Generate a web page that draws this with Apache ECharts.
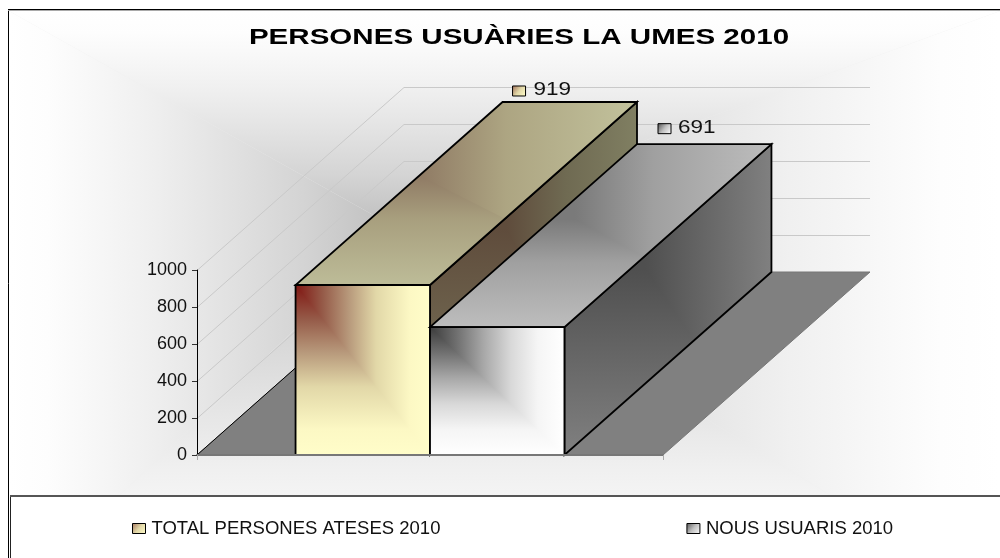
<!DOCTYPE html>
<html><head><meta charset="utf-8">
<style>html,body{margin:0;padding:0;background:#fff}#c{width:1000px;height:558px}</style>
<script src="https://cdn.jsdelivr.net/npm/echarts@6/dist/echarts.min.js"></script>
</head><body><div id="c"></div>
<script>
const categories = ['2010'];
const seriesNames = ['TOTAL PERSONES ATESES 2010', 'NOUS USUARIS 2010'];
const totalValues = [919];
const newUserValues = [691];
const yTicks = [0, 200, 400, 600, 800, 1000];
const titleText = 'PERSONES USUÀRIES LA UMES 2010';

const DX = 207, DY = -183;
const BAR_FRAC = 0.2885;
const LG = echarts.graphic.LinearGradient;
const toStops = s => s.map(c => ({offset: c[0], color: c[1]}));
const grad = (x0, y0, x1, y1, stops) => new LG(x0, y0, x1, y1, toStops(stops), true);

function clip(poly, a, b, c) {           // keep a*x+b*y+c>=0
  const out = [];
  for (let i = 0; i < poly.length; i++) {
    const p = poly[i], q = poly[(i + 1) % poly.length];
    const dp = a * p[0] + b * p[1] + c, dq = a * q[0] + b * q[1] + c;
    if (dp >= 0) out.push(p);
    if (dp * dq < 0) { const t = dp / (dp - dq); out.push([p[0] + t * (q[0] - p[0]), p[1] + t * (q[1] - p[1])]); }
  }
  return out;
}
// Path-gradient look: focus inside the box, diagonal fold running to the lower-right corner.
function face(poly, fx, fy, sH, sV) {
  const xs = poly.map(p => p[0]), ys = poly.map(p => p[1]);
  const x0 = Math.min(...xs), x1 = Math.max(...xs), y0 = Math.min(...ys), y1 = Math.max(...ys);
  const cx = x0 + fx * (x1 - x0), cy = y0 + fy * (y1 - y0);
  const a = y1 - cy, b = -(x1 - cx), c = -(a * cx + b * cy);
  const upper = clip(poly, a, b, c);
  const els = [{type: 'polygon', shape: {points: poly}, style: {fill: grad(0, cy, 0, y1, sV), stroke: null}}];
  if (upper.length) els.push({type: 'polygon', shape: {points: upper}, style: {fill: grad(cx, 0, x1, 0, sH), stroke: null}});
  els.push({type: 'polygon', shape: {points: poly}, style: {fill: null, stroke: '#000', lineWidth: 1.8}});
  return els;
}

const PAL = [
  {
    front: [[0,'#801612'],[.2,'#955a48'],[.4,'#b89a7c'],[.6,'#e2d8a8'],[.85,'#fcf8c4'],[1,'#fffdc9']],
    topH: [[0,'#8f7a64'],[.4,'#ada582'],[1,'#c2c29c']],
    topV: [[0,'#8f7a64'],[.4,'#a89f7e'],[1,'#bdbc98']],
    sideH: [[0,'#5f4c3c'],[.45,'#6f6a52'],[1,'#807f62']],
    sideV: [[0,'#5f4c3c'],[1,'#807f62']],
    top: [.36,.40], side: [.37,.36], mark: [10, -11, 21],
    legend: [[0,'#a0705a'],[.5,'#e2d8a8'],[1,'#fffdc9']]
  },
  {
    front: [[0,'#3c3c3c'],[.2,'#707070'],[.4,'#a8a8a8'],[.6,'#d8d8d8'],[.8,'#f5f5f5'],[1,'#ffffff']],
    topH: [[0,'#7a7a7a'],[.4,'#a0a0a0'],[1,'#bdbdbd']],
    topV: [[0,'#7a7a7a'],[.4,'#a0a0a0'],[1,'#bdbdbd']],
    sideH: [[0,'#4f4f4f'],[1,'#808080']],
    sideV: [[0,'#4f4f4f'],[1,'#808080']],
    top: [.425,.41], side: [.39,.40], mark: [21, -15.5, 20],
    legend: [[0,'#555555'],[.5,'#c0c0c0'],[1,'#ffffff']]
  }
];

function barRender(idx) {
  return function (params, api) {
    const v = api.value(1);
    const base = api.coord([0, 0]), topPt = api.coord([0, v]);
    const w = api.size([1, 0])[0] * BAR_FRAC;
    const xl = base[0] + (idx === 0 ? -w : 0), xr = xl + w;
    const yb = base[1], yt = topPt[1];
    const P = PAL[idx];
    const children = [];
    const sideQ = [[xr, yt], [xr + DX, yt + DY], [xr + DX, yb + DY], [xr, yb]];
    const topQ = [[xl, yt], [xr, yt], [xr + DX, yt + DY], [xl + DX, yt + DY]];
    const frontQ = [[xl, yb], [xl, yt], [xr, yt], [xr, yb]];
    children.push(...face(sideQ, P.side[0], P.side[1], P.sideH, P.sideV));
    children.push(...face(topQ, P.top[0], P.top[1], P.topH, P.topV));
    children.push(...face(frontQ, 0, 0, P.front, P.front));
    const mx = xl + DX + P.mark[0], my = yt + DY + P.mark[1];
    children.push({type: 'rect', shape: {x: mx, y: my - 5, width: 13, height: 10},
      style: {fill: grad(mx, my - 5, mx + 13, my + 5, P.legend), stroke: '#000', lineWidth: 1}});
    children.push({type: 'text', x: mx + P.mark[2], y: my - 1, scaleX: 1.25,
      style: {text: String(v), font: '18px "Liberation Sans"', fill: '#111', verticalAlign: 'middle'}});
    return {type: 'group', children};
  };
}

function floorRender(params, api) {
  const a = api.coord([0, 0]);
  const half = api.size([1, 0])[0] / 2;
  const l = a[0] - half, r = a[0] + half, y = a[1];
  return {type: 'group', children: [
    {type: 'polygon', shape: {points: [[l, y], [r, y], [r + DX, y + DY], [l + DX, y + DY]]}, style: {fill: '#808080', stroke: '#777', lineWidth: 1}},
    {type: 'line', shape: {x1: l, y1: y, x2: l + DX, y2: y + DY}, style: {stroke: '#000', lineWidth: 1}}
  ]};
}
function gridRender(params, api) {
  const v = api.value(0);
  const half = api.size([1, 0])[0] / 2;
  const p = api.coord([0, v]);
  const l = p[0] - half, r = p[0] + half, y = Math.round(p[1]) + .5;
  return {type: 'polyline', shape: {points: [[l, y], [l + DX, y + DY], [r + DX, y + DY]]}, style: {fill: null, stroke: '#c9c9c9', lineWidth: 1}};
}

// backdrop: rectangular path gradient made of four triangles
const B = {l: 9, r: 1000, t: 11, b: 600, cx: 400, cy: 230};
const BG = [[0,'#bdbdbd'],[.25,'#d4d4d4'],[.5,'#e6e6e6'],[.65,'#f0f0f0'],[.8,'#f8f8f8'],[.9,'#fdfdfd'],[1,'#ffffff']];
function tri(p1, p2, g) { return {type: 'polygon', z: -5, silent: true, shape: {points: [p1, p2, [B.cx, B.cy]]}, style: {fill: g, stroke: null}}; }
const backdrop = [
  {type: 'rect', z: -6, silent: true, shape: {x: B.l, y: B.t, width: B.r - B.l, height: B.b - B.t}, style: {fill: '#eeeeee'}},
  tri([B.l, B.t], [B.r, B.t], grad(0, B.cy, 0, B.t, BG)),
  tri([B.r, B.t], [B.r, B.b], grad(B.cx, 0, B.r, 0, BG)),
  tri([B.r, B.b], [B.l, B.b], grad(0, B.cy, 0, B.b, BG)),
  tri([B.l, B.b], [B.l, B.t], grad(B.cx, 0, B.l, 0, BG)),
  {type: 'rect', z: -4, silent: true, shape: {x: 0, y: 496, width: 1000, height: 62}, style: {fill: '#ffffff'}},
  {type: 'text', z: 6, silent: true, x: 519, y: 38, scaleX: 1.343,
    style: {text: titleText, font: 'bold 22px "Liberation Sans"', fill: '#000', align: 'center', verticalAlign: 'middle'}},
  {type: 'line', z: 20, silent: true, shape: {x1: 8.5, y1: 9, x2: 8.5, y2: 558}, style: {stroke: '#000', lineWidth: 1}},
  {type: 'line', z: 20, silent: true, shape: {x1: 8, y1: 9.5, x2: 1000, y2: 9.5}, style: {stroke: '#000', lineWidth: 1}},
  {type: 'line', z: 20, silent: true, shape: {x1: 8, y1: 10.5, x2: 1000, y2: 10.5}, style: {stroke: '#aaa', lineWidth: 1}},
  {type: 'line', z: 20, silent: true, shape: {x1: 10.5, y1: 496, x2: 10.5, y2: 558}, style: {stroke: '#222', lineWidth: 1}},
  {type: 'line', z: 20, silent: true, shape: {x1: 10, y1: 496, x2: 1000, y2: 496}, style: {stroke: '#555', lineWidth: 2}}
];

const chart = echarts.init(document.getElementById('c'), null, {renderer: 'canvas'});
chart.setOption({
  animation: false,
  backgroundColor: '#fff',
  graphic: backdrop,
  grid: {left: 197, right: 337, top: 270, bottom: 103, containLabel: false},
  legend: {
    left: 132, top: 519, padding: 0, itemWidth: 13, itemHeight: 10, itemGap: 246, selectedMode: false,
    textStyle: {fontFamily: 'Liberation Sans', fontSize: 18.5, color: '#111', padding: [0, 0, 0, 1]},
    data: seriesNames.map((n, i) => ({name: n, icon: 'rect',
      itemStyle: {color: new LG(0, 0, 1, 1, toStops(PAL[i].legend)), borderColor: '#000', borderWidth: 1}}))
  },
  xAxis: {type: 'category', data: categories, z: 10,
    axisLine: {lineStyle: {color: '#777', width: 2}},
    axisTick: {show: true, length: 5, lineStyle: {color: '#aaa'}},
    axisLabel: {show: false}, splitLine: {show: false}},
  yAxis: {type: 'value', min: 0, max: 1000, interval: 200, z: 10,
    axisLine: {show: true, lineStyle: {color: '#000', width: 1}},
    axisTick: {show: true, length: 5, lineStyle: {color: '#333'}},
    axisLabel: {fontFamily: 'Liberation Sans', fontSize: 18, color: '#111', margin: 10, formatter: v => String(v)},
    splitLine: {show: false}},
  series: [
    {type: 'custom', name: 'grid', z: 1, silent: true, data: yTicks.filter(t => t > 0).map(t => [t]), renderItem: gridRender, encode: {y: 0}},
    {type: 'custom', name: 'floor', z: 1, silent: true, data: [[0, 0]], renderItem: floorRender, encode: {x: 0, y: 1}},
    {type: 'custom', name: seriesNames[0], z: 3, silent: true, data: totalValues.map((v, i) => [i, v]), renderItem: barRender(0), encode: {x: 0, y: 1}},
    {type: 'custom', name: seriesNames[1], z: 4, silent: true, data: newUserValues.map((v, i) => [i, v]), renderItem: barRender(1), encode: {x: 0, y: 1}}
  ]
});
</script></body></html>
